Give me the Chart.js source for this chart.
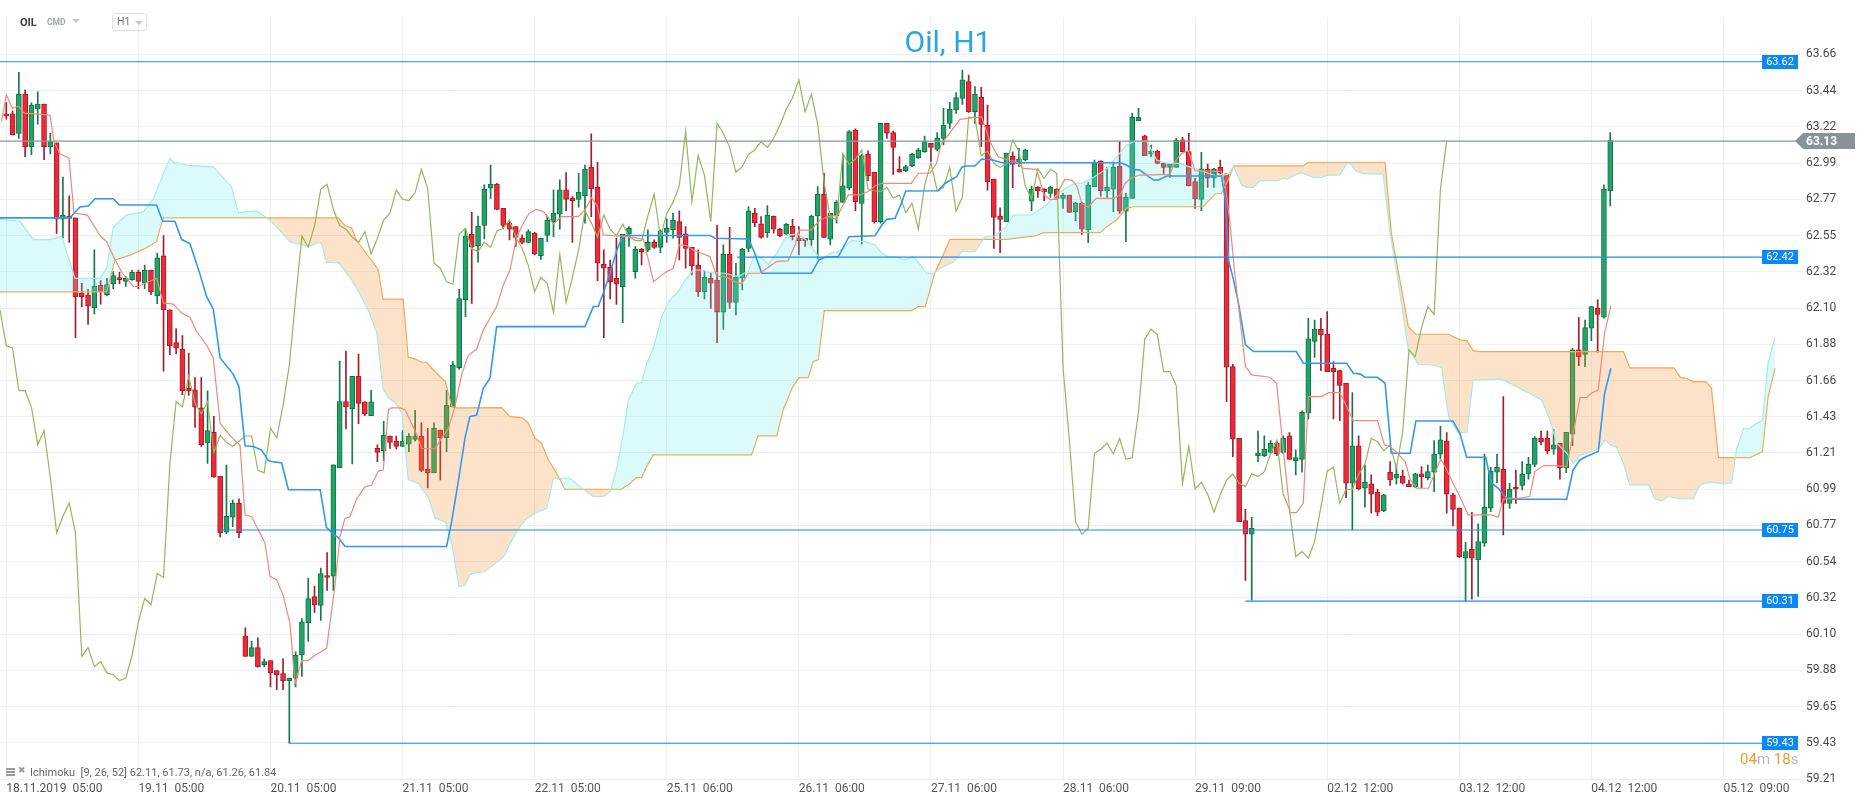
<!DOCTYPE html>
<html>
<head>
<meta charset="utf-8">
<title>Oil, H1</title>
<script src="https://cdn.jsdelivr.net/npm/chart.js@4.4.1/dist/chart.umd.min.js"></script>
<style>
html, body { margin: 0; padding: 0; background: #fff; }
#wrap { position: relative; width: 1866px; height: 805px; overflow: hidden; font-family: Roboto, 'Noto Sans', sans-serif; }
#chart { position: absolute; left: 0; top: 0; }
.abs { position: absolute; white-space: nowrap; }
.title { left: 0; width: 1896px; top: 27px; text-align: center; color: #27a5e6; font-size: 30px; line-height: 30px; }
.sym { left: 20px; top: 17px; font-size: 11px; line-height: 11px; font-weight: bold; color: #3d3d3d; }
.cmd { left: 47px; top: 18px; font-size: 8.5px; line-height: 8.5px; font-weight: bold; color: #a0a8b0; }
.tri { width: 0; height: 0; border-left: 4px solid transparent; border-right: 4px solid transparent; border-top: 4px solid #c8c8c8; }
.tf { left: 112px; top: 13px; width: 33px; height: 16px; border: 1px solid #e2e2e2; border-radius: 3px; }
.tf span { position: absolute; left: 4px; top: 3px; font-size: 10.5px; line-height: 10px; color: #777; }
.legend { left: 30px; top: 767px; font-size: 11px; line-height: 11px; color: #666; }
.timer { left: 1740px; top: 752px; font-size: 15px; line-height: 15px; color: #bbb; }
.timer b { font-weight: normal; color: #f39a2b; }
</style>
</head>
<body>
<div id="wrap">
  <canvas id="chart" width="1866" height="805"></canvas>
  <div class="abs title">Oil, H1</div>
  <div class="abs sym">OIL</div>
  <div class="abs cmd">CMD</div>
  <div class="abs tri" style="left:72px;top:19px;"></div>
  <div class="abs tf"><span>H1</span><div class="abs tri" style="left:22px;top:7px;"></div></div>
  <div class="abs" style="left:6px;top:768px;width:9px;height:2px;background:#999;box-shadow:0 3px 0 #999,0 6px 0 #999;"></div>
  <div class="abs" style="left:18px;top:765px;font-size:9px;line-height:11px;color:#999;">✖</div>
  <div class="abs legend">Ichimoku&nbsp; [9, 26, 52] 62.11, 61.73, n/a, 61.26, 61.84</div>
  <div class="abs timer"><b>04</b>m <b>18</b>s</div>
</div>
<script>
// axis labels
const timeLabels = ['18.11.2019  05:00', '19.11  05:00', '20.11  05:00', '21.11  05:00', '22.11  05:00',
  '25.11  06:00', '26.11  06:00', '27.11  06:00', '28.11  06:00', '29.11  09:00',
  '02.12  12:00', '03.12  12:00', '04.12  12:00', '05.12  09:00'];
const timeTickBars = [0, 21, 42, 63, 84, 105, 126, 147, 168, 189, 210, 231, 252, 273];
const priceLabels = ['63.66', '63.44', '63.22', '62.99', '62.77', '62.55', '62.32', '62.10', '61.88', '61.66',
  '61.43', '61.21', '60.99', '60.77', '60.54', '60.32', '60.10', '59.88', '59.65', '59.43', '59.21'];

// hourly candles, bar 0 = 18.11.2019 05:00
const opens = [63.29, 63.29, 63.169, 63.411, 63.088, 63.32, 63.35, 63.088, 63.111, 62.639,
  62.657, 62.647, 62.182, 62.17, 62.092, 62.23, 62.172, 62.24, 62.278, 62.255,
  62.266, 62.311, 62.243, 62.324, 62.165, 62.412, 62.079, 61.877, 61.837, 61.594,
  61.584, 61.473, 61.256, 61.322, 61.05, 60.704, 60.797, 60.885, 60.063, 59.937,
  59.991, 59.885, 59.911, 59.85, 59.831, 59.787, 59.803, 59.948, 60.145, 60.306,
  60.252, 60.436, 60.432, 61.104, 61.512, 61.468, 61.668, 61.51, 61.425, 61.223,
  61.208, 61.299, 61.267, 61.234, 61.249, 61.278, 61.299, 61.093, 61.071, 61.336,
  61.288, 61.479, 61.722, 62.141, 62.546, 62.476, 62.6, 62.83, 62.855, 62.706,
  62.614, 62.593, 62.521, 62.496, 62.552, 62.414, 62.538, 62.624, 62.67, 62.82,
  62.768, 62.762, 62.785, 62.96, 62.836, 62.36, 62.342, 62.274, 62.222, 62.546,
  62.315, 62.453, 62.449, 62.496, 62.465, 62.558, 62.573, 62.624, 62.548, 62.465,
  62.356, 62.191, 62.274, 62.263, 62.064, 62.422, 62.125, 62.274, 62.459, 62.675,
  62.61, 62.556, 62.659, 62.577, 62.548, 62.597, 62.521, 62.521, 62.511, 62.659,
  62.793, 62.515, 62.659, 62.743, 62.83, 63.19, 62.737, 63.04, 62.929, 62.624,
  63.232, 63.174, 62.947, 62.939, 62.97, 63.019, 63.056, 63.108, 63.071, 63.139,
  63.231, 63.314, 63.386, 63.49, 63.303, 63.392, 63.221, 62.887, 62.659, 62.623,
  63.029, 62.98, 63.005, 62.751, 62.836, 62.823, 62.799, 62.823, 62.768, 62.788,
  62.685, 62.737, 62.572, 62.84, 63.0, 62.815, 62.825, 62.968, 62.689, 62.768,
  63.248, 63.155, 63.042, 63.06, 62.984, 62.959, 62.959, 63.129, 63.057, 62.871,
  62.762, 62.948, 62.892, 62.96, 62.919, 61.728, 61.285, 60.776, 60.692, 61.178,
  61.178, 61.198, 61.254, 61.198, 61.3, 61.147, 61.155, 61.44, 61.883, 61.959,
  61.928, 61.718, 61.703, 61.625, 61.007, 61.238, 60.976, 61.003, 60.951, 60.836,
  61.075, 61.038, 61.052, 61.003, 60.986, 61.065, 61.042, 61.075, 61.186, 61.269,
  60.935, 60.853, 60.544, 60.599, 60.533, 60.636, 60.853, 61.075, 61.093, 60.883,
  60.982, 60.993, 61.065, 61.124, 61.285, 61.285, 61.217, 61.254, 61.104, 61.31,
  61.831, 61.804, 61.965, 62.089, 62.033, 62.816];
const highs = [63.36, 63.308, 63.547, 63.439, 63.358, 63.426, 63.35, 63.169, 63.111, 62.899,
  62.783, 62.647, 62.243, 62.205, 62.45, 62.26, 62.273, 62.316, 62.31, 62.286,
  62.324, 62.324, 62.356, 62.324, 62.43, 62.538, 62.079, 61.963, 61.92, 61.811,
  61.66, 61.66, 61.579, 61.42, 61.05, 61.12, 60.903, 60.91, 60.113, 60.03,
  60.052, 59.922, 59.911, 59.85, 59.922, 59.803, 59.965, 60.171, 60.421, 60.371,
  60.482, 60.579, 61.121, 61.762, 61.824, 61.668, 61.805, 61.51, 61.581, 61.245,
  61.39, 61.299, 61.299, 61.332, 61.314, 61.458, 61.38, 61.347, 61.38, 61.336,
  61.581, 61.759, 62.206, 62.579, 62.681, 62.659, 62.851, 62.974, 62.861, 62.706,
  62.624, 62.593, 62.542, 62.573, 62.558, 62.521, 62.659, 62.82, 62.882, 62.927,
  62.779, 62.923, 62.974, 63.166, 62.991, 62.449, 62.387, 62.521, 62.546, 62.593,
  62.47, 62.459, 62.573, 62.511, 62.573, 62.641, 62.676, 62.69, 62.593, 62.465,
  62.449, 62.321, 62.305, 62.603, 62.48, 62.589, 62.366, 62.459, 62.717, 62.706,
  62.655, 62.723, 62.659, 62.583, 62.614, 62.638, 62.593, 62.521, 62.665, 62.84,
  62.922, 62.675, 62.754, 63.04, 63.186, 63.197, 63.04, 63.061, 62.929, 63.232,
  63.232, 63.184, 63.026, 62.974, 63.046, 63.077, 63.153, 63.108, 63.174, 63.324,
  63.361, 63.421, 63.56, 63.53, 63.458, 63.454, 63.344, 62.887, 62.71, 63.046,
  63.056, 63.077, 63.072, 62.844, 62.84, 62.829, 62.844, 62.829, 62.799, 62.788,
  62.743, 62.743, 62.865, 63.005, 63.0, 62.959, 62.988, 63.118, 62.799, 63.293,
  63.324, 63.159, 63.097, 63.066, 62.984, 62.984, 63.139, 63.145, 63.17, 62.892,
  63.053, 62.98, 62.954, 63.005, 62.919, 61.742, 61.285, 60.846, 60.797, 61.33,
  61.3, 61.271, 61.264, 61.3, 61.32, 61.213, 61.454, 62.027, 62.016, 62.027,
  62.068, 61.759, 61.707, 61.625, 61.567, 61.3, 61.12, 61.059, 60.97, 60.939,
  61.141, 61.12, 61.089, 61.027, 61.069, 61.11, 61.12, 61.271, 61.361, 61.32,
  60.945, 60.853, 60.642, 60.828, 60.756, 61.188, 61.106, 61.188, 61.543, 61.007,
  61.089, 61.141, 61.168, 61.295, 61.33, 61.33, 61.341, 61.254, 61.322, 61.841,
  62.033, 62.016, 62.099, 62.14, 62.851, 63.174];
const lows = [63.257, 63.16, 63.139, 63.025, 63.038, 63.227, 63.007, 63.043, 62.551, 62.521,
  62.495, 61.907, 62.097, 61.988, 62.054, 62.114, 62.165, 62.21, 62.24, 62.223,
  62.26, 62.21, 62.21, 62.172, 62.117, 61.7, 61.801, 61.806, 61.554, 61.55,
  61.352, 61.234, 61.13, 61.044, 60.676, 60.696, 60.739, 60.671, 59.937, 59.937,
  59.87, 59.874, 59.748, 59.731, 59.731, 59.40, 59.748, 59.813, 60.03, 60.208,
  60.16, 60.345, 60.345, 61.104, 61.343, 61.126, 61.375, 61.425, 61.425, 61.141,
  61.147, 61.223, 61.219, 61.234, 61.202, 61.267, 61.078, 60.978, 61.071, 61.028,
  61.202, 61.479, 61.711, 62.037, 62.119, 62.373, 62.517, 62.768, 62.696, 62.579,
  62.511, 62.47, 62.486, 62.494, 62.418, 62.391, 62.5, 62.531, 62.577, 62.692,
  62.496, 62.713, 62.614, 62.655, 62.259, 61.907, 62.146, 62.113, 62.0, 62.47,
  62.274, 62.356, 62.439, 62.459, 62.432, 62.496, 62.521, 62.387, 62.336, 62.295,
  62.161, 62.146, 62.088, 61.876, 61.958, 62.088, 62.047, 62.202, 62.438, 62.593,
  62.521, 62.527, 62.552, 62.531, 62.542, 62.511, 62.418, 62.47, 62.476, 62.393,
  62.527, 62.48, 62.614, 62.743, 62.82, 62.692, 62.484, 62.877, 62.614, 62.614,
  63.139, 62.916, 62.929, 62.933, 62.964, 63.015, 63.052, 62.995, 63.063, 63.098,
  63.2, 63.293, 63.349, 63.299, 63.231, 63.087, 62.819, 62.459, 62.432, 62.623,
  62.834, 62.963, 63.0, 62.691, 62.774, 62.753, 62.774, 62.763, 62.706, 62.681,
  62.63, 62.545, 62.494, 62.84, 62.782, 62.774, 62.685, 62.675, 62.5, 62.768,
  63.248, 63.031, 63.025, 62.98, 62.922, 62.897, 62.959, 63.057, 62.845, 62.706,
  62.692, 62.836, 62.836, 62.919, 61.512, 61.172, 60.77, 60.406, 60.285, 61.141,
  61.172, 61.192, 61.178, 61.192, 61.155, 61.058, 61.075, 61.405, 61.784, 61.703,
  61.697, 61.405, 61.394, 60.918, 60.719, 60.966, 60.859, 60.822, 60.807, 60.832,
  60.993, 61.001, 61.003, 60.986, 60.98, 60.98, 61.028, 60.955, 61.155, 60.822,
  60.743, 60.548, 60.28, 60.29, 60.307, 60.616, 60.832, 61.011, 60.688, 60.852,
  60.883, 60.966, 61.032, 61.11, 61.244, 61.188, 61.186, 61.032, 61.073, 61.24,
  61.734, 61.728, 61.889, 61.817, 62.027, 62.721];
const closes = [63.278, 63.161, 63.411, 63.088, 63.345, 63.35, 63.088, 63.118, 62.639, 62.664,
  62.644, 62.16, 62.16, 62.102, 62.225, 62.19, 62.235, 62.29, 62.266, 62.273,
  62.311, 62.255, 62.324, 62.19, 62.4, 62.079, 61.857, 61.842, 61.579, 61.579,
  61.478, 61.246, 61.332, 61.044, 60.701, 60.802, 60.885, 60.701, 59.937, 59.991,
  59.874, 59.905, 59.835, 59.824, 59.787, 59.803, 59.944, 60.15, 60.295, 60.256,
  60.449, 60.425, 61.121, 61.512, 61.479, 61.668, 61.501, 61.436, 61.51, 61.197,
  61.304, 61.26, 61.234, 61.267, 61.299, 61.299, 61.087, 61.071, 61.347, 61.288,
  61.488, 61.737, 62.149, 62.536, 62.466, 62.597, 62.824, 62.855, 62.7, 62.6,
  62.577, 62.527, 62.496, 62.562, 62.424, 62.521, 62.634, 62.676, 62.82, 62.762,
  62.754, 62.805, 62.948, 62.826, 62.367, 62.336, 62.253, 62.237, 62.546, 62.583,
  62.455, 62.439, 62.496, 62.465, 62.566, 62.583, 62.634, 62.527, 62.459, 62.352,
  62.191, 62.28, 62.243, 62.064, 62.422, 62.125, 62.28, 62.453, 62.69, 62.618,
  62.527, 62.665, 62.577, 62.537, 62.607, 62.531, 62.507, 62.507, 62.659, 62.793,
  62.527, 62.675, 62.743, 62.846, 63.18, 62.747, 63.032, 62.908, 62.624, 63.232,
  63.17, 63.083, 62.929, 62.964, 63.04, 63.067, 63.118, 63.083, 63.139, 63.221,
  63.318, 63.39, 63.5, 63.303, 63.412, 63.225, 62.871, 62.65, 62.638, 63.046,
  62.978, 63.011, 63.066, 62.825, 62.815, 62.809, 62.836, 62.768, 62.788, 62.681,
  62.737, 62.578, 62.85, 62.988, 62.815, 62.836, 62.959, 62.689, 62.774, 63.268,
  63.268, 63.031, 63.06, 62.984, 62.959, 62.98, 63.128, 63.057, 62.845, 62.764,
  62.95, 62.892, 62.948, 62.923, 61.724, 61.279, 60.77, 60.692, 60.729, 61.192,
  61.217, 61.254, 61.188, 61.285, 61.155, 61.166, 61.446, 61.899, 61.959, 61.924,
  61.697, 61.697, 61.611, 61.007, 61.238, 60.972, 61.013, 60.939, 60.828, 60.935,
  61.028, 61.063, 61.007, 60.986, 61.065, 61.048, 61.079, 61.188, 61.275, 60.939,
  60.846, 60.554, 60.585, 60.544, 60.646, 60.859, 61.083, 61.106, 60.883, 60.97,
  60.97, 61.063, 61.124, 61.285, 61.264, 61.207, 61.244, 61.104, 61.322, 61.831,
  61.79, 61.969, 62.099, 62.051, 62.824, 63.125];

// Ichimoku lines, [bar, price]
const tenkan = [[-0.74, 63.245], [0, 63.409], [0.96, 63.325], [1.91, 63.338], [2.87, 63.295], [6.95, 63.282],
  [7.6, 63.118], [8.5, 63.043], [9.97, 63.017], [10.76, 62.677], [12.88, 62.664], [14.9, 62.538],
  [15.96, 62.5], [17.0, 62.412], [18.34, 62.311], [20.2, 62.223], [21.0, 62.223], [22.3, 62.248],
  [23.9, 62.273], [24.97, 62.122], [26.55, 62.114], [27.88, 62.059], [29.2, 62.033], [30.26, 61.945],
  [31.9, 61.857], [32.9, 61.781], [34.0, 61.377], [35.0, 61.327], [36.1, 61.28], [37.15, 61.245],
  [37.95, 60.81], [39.0, 60.8], [41.13, 60.638], [41.92, 60.432], [42.98, 60.41], [44.04, 60.312],
  [45.1, 60.139], [45.9, 59.77], [46.96, 59.911], [48.0, 59.911], [49.08, 59.944], [50.93, 59.987],
  [52.26, 60.377], [53.05, 60.681], [53.85, 60.79], [54.64, 60.8], [55.7, 60.909], [57.0, 60.985],
  [58.08, 60.996], [59.14, 61.082], [59.93, 61.089], [60.74, 61.462], [61.27, 61.473], [62.6, 61.473],
  [63.4, 61.462], [64.45, 61.375], [65.24, 61.31], [66.04, 61.223], [68.16, 61.219], [69.22, 61.288],
  [70.28, 61.343], [71.34, 61.484], [72.4, 61.679], [73.45, 61.798], [74.78, 61.835], [75.84, 61.955],
  [76.9, 62.027], [77.96, 62.099], [79.02, 62.233], [80.08, 62.325], [81.14, 62.531], [82.2, 62.614],
  [83.15, 62.676], [84.3, 62.7], [85.4, 62.686], [87.0, 62.61], [88.3, 62.655], [90.94, 62.655],
  [92.0, 62.696], [93.06, 62.774], [94.0, 62.717], [94.9, 62.542], [97.0, 62.536], [99.7, 62.527],
  [101.3, 62.515], [102.9, 62.253], [103.93, 62.284], [105.0, 62.315], [106.05, 62.336], [107.0, 62.48],
  [108.17, 62.476], [109.2, 62.449], [110.8, 62.424], [111.87, 62.408], [112.94, 62.288], [114.26, 62.284],
  [115.85, 62.253], [116.9, 62.239], [117.97, 62.305], [119.8, 62.305], [121.15, 62.342], [122.47, 62.377],
  [124.3, 62.383], [125.4, 62.48], [126.0, 62.572], [127.93, 62.572], [129.36, 62.634], [130.8, 62.655],
  [132.2, 62.665], [133.87, 62.789], [135.7, 62.789], [137.05, 62.81], [138.1, 62.844], [139.2, 62.861],
  [143.9, 62.861], [145.0, 62.923], [146.85, 62.923], [147.9, 62.984], [148.6, 63.1], [151.62, 63.256],
  [155.06, 63.272], [156.4, 63.118], [157.7, 63.025], [159.3, 63.005], [160.6, 62.994], [161.7, 62.953],
  [163.8, 62.947], [164.3, 62.881], [165.0, 62.788], [165.9, 62.762], [167.0, 62.762], [167.5, 62.829],
  [168.3, 62.885], [169.4, 62.881], [170.2, 62.844], [171.0, 62.737], [172.0, 62.712], [172.8, 62.747],
  [173.3, 62.768], [176.0, 62.768], [177.1, 62.788], [177.85, 62.86], [178.9, 62.895], [180.2, 62.912],
  [185.0, 62.916], [185.8, 62.995], [186.86, 63.046], [187.9, 63.063], [189.0, 62.939], [193.2, 62.933],
  [193.8, 62.851], [194.55, 62.614], [195.3, 62.305], [197.0, 61.728], [198.0, 61.677], [200.9, 61.662],
  [201.95, 61.625], [203.3, 61.11], [204.1, 60.826], [205.1, 60.826], [206.2, 60.883], [207.0, 61.543],
  [209.1, 61.543], [210.2, 61.567], [212.0, 61.567], [213.1, 61.481], [214.15, 61.394], [218.0, 61.394],
  [219.1, 61.244], [220.0, 61.234], [221.05, 61.197], [222.4, 61.141], [223.2, 61.03], [224.2, 60.976],
  [226.1, 60.976], [227.1, 61.069], [228.05, 61.155], [229.0, 61.09], [230.0, 61.007], [231.1, 60.925],
  [232.4, 60.811], [236.1, 60.811], [237.2, 60.797], [237.97, 60.908], [239.0, 60.914], [240.4, 60.914],
  [242.2, 60.925], [243.0, 61.079], [244.4, 61.116], [246.0, 61.116], [248.07, 61.11], [249.2, 61.337],
  [250.2, 61.536], [251.2, 61.536], [252.0, 61.563], [253.1, 61.584], [254.1, 61.934], [255.1, 62.103]];

const kijun = [[-1.0, 62.647], [10.1, 62.647], [11.7, 62.715], [13.04, 62.72], [14.1, 62.765], [17.0, 62.765],
  [17.97, 62.727], [23.9, 62.727], [24.86, 62.626], [26.8, 62.626], [27.88, 62.513], [29.2, 62.488],
  [30.8, 62.298], [31.85, 62.16], [32.9, 62.084], [34.0, 61.781], [36.1, 61.68], [37.0, 61.603],
  [37.95, 61.239], [39.27, 61.234], [40.6, 61.212], [41.66, 61.147], [42.2, 61.141], [43.78, 61.132],
  [44.85, 60.967], [49.9, 60.967], [50.9, 60.735], [51.7, 60.703], [52.8, 60.67], [53.85, 60.616],
  [70.0, 60.616], [70.8, 60.768], [71.9, 61.028], [72.93, 61.288], [73.7, 61.419], [74.78, 61.429],
  [75.84, 61.594], [76.9, 61.656], [77.96, 61.975], [92.0, 61.975], [93.33, 62.099], [94.1, 62.099],
  [94.9, 62.181], [95.98, 62.305], [97.0, 62.439], [98.0, 62.538], [111.9, 62.538], [112.67, 62.521],
  [118.0, 62.517], [118.9, 62.438], [120.1, 62.305], [128.0, 62.305], [129.2, 62.387], [130.05, 62.403],
  [132.3, 62.408], [133.96, 62.531], [138.1, 62.537], [139.2, 62.603], [139.97, 62.638], [141.3, 62.645],
  [142.3, 62.737], [143.0, 62.813], [148.2, 62.815], [149.2, 62.86], [151.1, 62.902], [151.9, 62.959],
  [152.4, 62.968], [154.0, 62.968], [155.07, 63.011], [156.9, 63.005], [158.25, 62.988], [177.1, 62.988],
  [178.1, 62.974], [179.2, 62.947], [180.2, 62.943], [182.4, 62.881], [183.2, 62.881], [184.5, 62.906],
  [193.2, 62.906], [193.8, 62.758], [194.3, 62.387], [195.1, 62.264], [195.9, 62.12], [197.0, 61.862],
  [198.3, 61.821], [205.1, 61.821], [206.2, 61.749], [213.1, 61.749], [214.15, 61.687], [215.2, 61.683],
  [216.0, 61.662], [218.0, 61.662], [219.2, 61.625], [220.2, 61.192], [223.2, 61.192], [224.1, 61.392],
  [230.0, 61.392], [231.1, 61.316], [232.17, 61.168], [235.2, 61.168], [236.1, 61.007], [237.2, 60.976],
  [238.5, 60.914], [239.6, 60.908], [248.07, 60.908], [249.1, 61.09], [250.2, 61.151], [251.2, 61.172],
  [253.1, 61.203], [254.1, 61.563], [255.1, 61.718]];

// lagging line, first point at bar -1
const chikou = [62.079, 61.857, 61.842, 61.579, 61.579, 61.478, 61.246, 61.332, 61.044, 60.701,
  60.802, 60.885, 60.701, 59.937, 59.991, 59.874, 59.905, 59.835, 59.824, 59.787,
  59.803, 59.944, 60.15, 60.295, 60.256, 60.449, 60.425, 61.121, 61.512, 61.479,
  61.668, 61.501, 61.436, 61.51, 61.197, 61.304, 61.26, 61.234, 61.267, 61.299,
  61.299, 61.087, 61.071, 61.347, 61.288, 61.488, 61.737, 62.149, 62.536, 62.466,
  62.597, 62.824, 62.855, 62.7, 62.6, 62.577, 62.527, 62.496, 62.562, 62.424,
  62.521, 62.634, 62.676, 62.82, 62.762, 62.754, 62.805, 62.948, 62.826, 62.367,
  62.336, 62.253, 62.237, 62.546, 62.583, 62.455, 62.439, 62.496, 62.465, 62.566,
  62.583, 62.634, 62.527, 62.459, 62.352, 62.191, 62.28, 62.243, 62.064, 62.422,
  62.125, 62.28, 62.453, 62.69, 62.618, 62.527, 62.665, 62.577, 62.537, 62.607,
  62.531, 62.507, 62.507, 62.659, 62.793, 62.527, 62.675, 62.743, 62.846, 63.18,
  62.747, 63.032, 62.908, 62.624, 63.232, 63.17, 63.083, 62.929, 62.964, 63.04,
  63.067, 63.118, 63.083, 63.139, 63.221, 63.318, 63.39, 63.5, 63.303, 63.412,
  63.225, 62.871, 62.65, 62.638, 63.046, 62.978, 63.011, 63.066, 62.825, 62.815,
  62.809, 62.836, 62.768, 62.788, 62.681, 62.737, 62.578, 62.85, 62.988, 62.815,
  62.836, 62.959, 62.689, 62.774, 63.268, 63.268, 63.031, 63.06, 62.984, 62.959,
  62.98, 63.128, 63.057, 62.845, 62.764, 62.95, 62.892, 62.948, 62.923, 61.724,
  61.279, 60.77, 60.692, 60.729, 61.192, 61.217, 61.254, 61.188, 61.285, 61.155,
  61.166, 61.446, 61.899, 61.959, 61.924, 61.697, 61.697, 61.611, 61.007, 61.238,
  60.972, 61.013, 60.939, 60.828, 60.935, 61.028, 61.063, 61.007, 60.986, 61.065,
  61.048, 61.079, 61.188, 61.275, 60.939, 60.846, 60.554, 60.585, 60.544, 60.646,
  60.859, 61.083, 61.106, 60.883, 60.97, 60.97, 61.063, 61.124, 61.285, 61.264,
  61.207, 61.244, 61.104, 61.322, 61.831, 61.79, 61.969, 62.099, 62.051, 62.824,
  63.125];

const senkouA = [[-1.0, 62.639], [2.18, 62.626], [4.3, 62.513], [6.95, 62.513], [8.8, 62.533], [9.6, 62.437],
  [10.92, 62.273], [14.9, 62.273], [15.96, 62.336], [17.0, 62.589], [19.1, 62.664], [21.8, 62.684],
  [23.4, 62.765], [26.0, 63.017], [26.55, 62.992], [28.9, 62.972], [32.9, 62.962], [35.8, 62.84],
  [36.9, 62.68], [39.8, 62.69], [41.1, 62.655], [41.9, 62.633], [43.25, 62.579], [45.1, 62.499],
  [46.96, 62.481], [48.0, 62.471], [49.6, 62.492], [50.1, 62.492], [50.9, 62.373], [52.8, 62.369],
  [53.85, 62.319], [54.9, 62.264], [56.5, 62.156], [57.5, 62.08], [58.9, 61.939], [59.9, 61.592],
  [60.7, 61.538], [61.8, 61.505], [62.9, 61.44], [63.9, 61.028], [65.5, 61.006], [67.1, 60.92],
  [68.2, 60.79], [69.8, 60.768], [70.8, 60.638], [71.97, 60.367], [72.9, 60.377], [73.7, 60.443],
  [74.5, 60.453], [76.0, 60.46], [79.0, 60.55], [81.0, 60.7], [82.5, 60.78], [84.05, 60.822],
  [85.9, 60.852], [87.0, 61.038], [89.6, 61.038], [91.2, 60.986], [93.3, 60.925], [94.9, 60.925],
  [95.98, 60.955], [97.0, 61.09], [98.1, 61.316], [98.9, 61.522], [100.2, 61.625], [101.0, 61.629],
  [101.8, 61.749], [102.86, 61.841], [104.2, 62.037], [105.5, 62.14], [106.6, 62.181], [107.6, 62.243],
  [109.2, 62.325], [110.8, 62.325], [111.5, 62.31], [114.26, 62.305], [116.4, 62.284], [118.0, 62.321],
  [119.0, 62.428], [120.3, 62.391], [121.15, 62.362], [122.5, 62.428], [124.1, 62.541], [125.9, 62.548],
  [127.2, 62.511], [128.0, 62.47], [129.1, 62.408], [129.9, 62.397], [131.2, 62.432], [132.3, 62.439],
  [133.3, 62.47], [134.4, 62.507], [136.5, 62.5], [138.1, 62.48], [139.2, 62.428], [140.2, 62.408],
  [141.3, 62.408], [142.9, 62.387], [144.2, 62.408], [145.3, 62.356], [146.3, 62.305], [147.6, 62.305],
  [148.4, 62.335], [150.6, 62.376], [151.9, 62.438], [154.0, 62.438], [155.6, 62.531], [157.2, 62.535],
  [159.0, 62.593], [160.1, 62.665], [163.0, 62.665], [164.3, 62.696], [165.9, 62.747], [167.0, 62.788],
  [168.3, 62.829], [169.9, 62.86], [171.2, 62.864], [172.8, 62.897], [175.0, 62.953], [177.1, 63.05],
  [178.1, 63.097], [179.2, 63.118], [181.3, 63.122], [182.9, 63.005], [184.5, 62.984], [186.6, 62.984],
  [189.0, 62.95], [191.1, 62.923], [192.7, 62.902], [194.3, 62.919], [195.1, 62.964], [196.4, 62.851],
  [197.2, 62.836], [198.3, 62.836], [199.3, 62.878], [202.2, 62.878], [203.0, 62.892], [203.8, 62.888],
  [204.9, 62.912], [205.9, 62.927], [207.8, 62.898], [209.1, 62.898], [210.2, 62.912], [212.0, 62.912],
  [213.1, 62.98], [213.6, 62.985], [214.7, 62.933], [216.0, 62.919], [218.9, 62.919], [220.0, 62.552],
  [221.0, 62.325], [222.9, 61.831], [223.9, 61.78], [224.5, 61.742], [226.9, 61.738], [228.2, 61.722],
  [229.3, 61.419], [230.8, 61.32], [232.2, 61.32], [233.2, 61.646], [237.7, 61.65], [239.3, 61.621],
  [244.1, 61.522], [245.4, 61.398], [246.5, 61.254], [248.1, 61.192], [249.1, 61.13], [250.2, 61.18],
  [253.1, 61.219], [254.2, 61.275], [255.0, 61.244], [256.0, 61.23], [257.1, 61.131], [258.1, 60.997],
  [261.1, 60.997], [262.1, 60.91], [263.2, 60.898], [264.2, 60.925], [266.1, 60.91], [268.2, 60.914],
  [269.3, 60.997], [270.3, 61.011], [271.9, 61.011], [273.0, 61.001], [274.3, 61.011], [275.1, 61.219],
  [276.2, 61.347], [277.2, 61.347], [278.0, 61.372], [279.2, 61.394], [280.1, 61.749], [281.2, 61.909]];

const senkouB = [[-1.0, 62.19], [15.96, 62.19], [17.28, 62.387], [19.7, 62.417], [22.3, 62.462], [23.9, 62.5],
  [24.4, 62.576], [24.97, 62.647], [52.8, 62.648], [53.85, 62.6], [54.9, 62.585], [55.7, 62.507],
  [59.1, 62.33], [59.9, 62.145], [63.1, 62.145], [63.9, 61.787], [65.0, 61.776], [66.0, 61.755],
  [66.8, 61.755], [68.2, 61.696], [69.8, 61.635], [70.8, 61.484], [71.3, 61.473], [78.76, 61.475],
  [80.08, 61.419], [81.93, 61.413], [83.0, 61.378], [84.05, 61.285], [85.1, 61.254], [86.2, 61.151],
  [87.5, 61.069], [88.8, 60.97], [97.8, 60.97], [99.2, 61.007], [100.2, 61.042], [101.0, 61.042],
  [101.8, 61.11], [102.86, 61.182], [118.5, 61.182], [119.5, 61.3], [122.5, 61.3], [123.5, 61.46],
  [125.0, 61.6], [126.0, 61.66], [127.5, 61.66], [128.3, 61.76], [129.1, 61.77], [130.05, 62.074],
  [143.9, 62.074], [145.0, 62.099], [146.1, 62.099], [147.6, 62.305], [149.2, 62.439], [150.0, 62.514],
  [159.0, 62.514], [163.8, 62.537], [164.9, 62.556], [173.9, 62.556], [174.9, 62.593], [176.5, 62.634],
  [178.1, 62.706], [179.2, 62.716], [190.3, 62.716], [192.2, 62.795], [193.2, 62.799], [194.3, 62.882],
  [195.1, 62.968], [206.2, 62.968], [207.0, 62.991], [219.2, 62.991], [220.2, 62.552], [222.9, 61.975],
  [224.1, 61.928], [229.3, 61.928], [231.1, 61.893], [232.2, 61.889], [233.2, 61.827], [234.3, 61.821],
  [257.1, 61.821], [258.1, 61.72], [265.1, 61.72], [266.2, 61.66], [267.1, 61.656], [268.2, 61.635],
  [270.2, 61.635], [271.1, 61.594], [272.2, 61.166], [277.2, 61.166], [279.2, 61.203], [280.1, 61.543],
  [281.2, 61.718]];

// horizontal levels: position on the price scale, first bar, label
const levelValues = [63.612, 62.404, 60.718, 60.279, 59.40];
const levelStarts = [-1, 116.2, 34, 197, 45];
const levelLabels = ['63.62', '62.42', '60.75', '60.31', '59.43'];
const lastPrice = 63.122;
const lastPriceLabel = '63.13';

// scale window
const X_MIN = -1.0, X_MAX = 284.85;
const Y_MIN = 59.1773, Y_MAX = 63.8825;
const GRID_TOP = 63.658, GRID_STEP = 0.224;

const pts = arr => arr.map(p => ({ x: p[0], y: p[1] }));
const isUp = closes.map((c, i) => c >= opens[i]);

const lineBase = { type: 'line', pointRadius: 0, pointHoverRadius: 0, tension: 0, fill: false };

const datasets = [];
levelValues.forEach((v, k) => {
    datasets.push({ ...lineBase, data: [{ x: levelStarts[k], y: v }, { x: X_MAX, y: v }], borderColor: '#1f8cec', borderWidth: 1.2, order: 1 });
});
datasets.push({ ...lineBase, data: [{ x: X_MIN, y: lastPrice }, { x: X_MAX, y: lastPrice }], borderColor: '#8a9599', borderWidth: 1.3, order: 1 });
datasets.push({ ...lineBase, label: 'Tenkan', data: pts(tenkan), borderColor: '#f08a78', borderWidth: 1.2, order: 2 });
datasets.push({ ...lineBase, label: 'Kijun', data: pts(kijun), borderColor: '#3398f2', borderWidth: 1.6, order: 2 });
datasets.push({ ...lineBase, label: 'Chikou', data: chikou.map((v, i) => ({ x: i - 1, y: v })), borderColor: '#92b75c', borderWidth: 1.2, order: 2 });
const idxA = datasets.length;
datasets.push({ ...lineBase, label: 'Senkou A', data: pts(senkouA), borderColor: '#a4ece4', borderWidth: 1.2, order: 4,
    fill: { target: idxA + 1, above: 'rgba(110, 235, 235, 0.25)', below: 'rgba(245, 150, 60, 0.28)' } });
datasets.push({ ...lineBase, label: 'Senkou B', data: pts(senkouB), borderColor: '#f6a854', borderWidth: 1.2, order: 4 });
datasets.push({
    type: 'bar', label: 'Bodies', grouped: false, order: 6,
    data: opens.map((o, i) => ({ x: i, y: [o, closes[i]] })),
    barThickness: 5, minBarLength: 1.5, borderWidth: 1, borderSkipped: false,
    backgroundColor: isUp.map(u => u ? '#22a367' : '#f0283a'),
    borderColor: isUp.map(u => u ? '#137346' : '#a31d2a')
});
datasets.push({
    type: 'bar', label: 'Wicks', grouped: false, order: 7,
    data: lows.map((l, i) => ({ x: i, y: [l, highs[i]] })),
    barThickness: 1, borderWidth: 0,
    backgroundColor: isUp.map(u => u ? '#127a48' : '#a31d2a')
});

// level tags and current price tag on the right edge
const tags = {
    id: 'tags',
    afterDraw(chart) {
        const { ctx, chartArea, scales: { y } } = chart;
        ctx.save();
        ctx.textBaseline = 'middle';
        ctx.font = '11px Roboto';
        ctx.textAlign = 'center';
        levelValues.forEach((v, k) => {
            const py = Math.round(y.getPixelForValue(v));
            ctx.fillStyle = '#0a88f5';
            ctx.fillRect(chartArea.right - 36, py - 7, 36, 14);
            ctx.fillStyle = '#ffffff';
            ctx.fillText(levelLabels[k], chartArea.right - 18, py + 0.5);
        });
        const py = Math.round(y.getPixelForValue(lastPrice));
        const x0 = chartArea.right - 3;
        ctx.fillStyle = '#899396';
        ctx.beginPath();
        ctx.moveTo(x0, py);
        ctx.lineTo(x0 + 8, py - 8);
        ctx.lineTo(x0 + 60, py - 8);
        ctx.lineTo(x0 + 60, py + 8);
        ctx.lineTo(x0 + 8, py + 8);
        ctx.closePath();
        ctx.fill();
        ctx.fillStyle = '#ffffff';
        ctx.font = 'bold 12px Roboto';
        ctx.textAlign = 'left';
        ctx.fillText(lastPriceLabel, x0 + 11, py + 0.5);
        ctx.restore();
    }
};

new Chart(document.getElementById('chart'), {
    type: 'line',
    data: { datasets },
    plugins: [tags],
    options: {
        responsive: false,
        animation: false,
        devicePixelRatio: 1,
        events: [],
        layout: { padding: { top: 18, left: 0, right: 0, bottom: 0 } },
        plugins: { legend: { display: false }, tooltip: { enabled: false } },
        scales: {
            x: {
                type: 'linear', min: X_MIN, max: X_MAX, offset: false,
                afterBuildTicks: ax => { ax.ticks = timeTickBars.map(v => ({ value: v })); },
                afterFit: ax => { ax.height = 25.7; },
                ticks: {
                    autoSkip: false, maxRotation: 0, minRotation: 0, align: 'start', padding: 2,
                    color: '#555', font: { family: 'Roboto', size: 12 },
                    callback: (v, i) => timeLabels[i]
                },
                grid: { color: '#efefef', drawTicks: false, offset: false },
                border: { display: false }
            },
            y: {
                type: 'linear', position: 'right', min: Y_MIN, max: Y_MAX, beginAtZero: false,
                afterBuildTicks: ax => { ax.ticks = priceLabels.map((t, k) => ({ value: GRID_TOP - k * GRID_STEP })); },
                afterFit: ax => { ax.width = 68; },
                ticks: {
                    padding: 4, color: '#4a4a4a', font: { family: 'Roboto', size: 12 },
                    callback: (v, i) => priceLabels[i]
                },
                grid: { color: '#efefef', tickLength: 4 },
                border: { display: false }
            }
        }
    }
});
</script>
</body>
</html>
